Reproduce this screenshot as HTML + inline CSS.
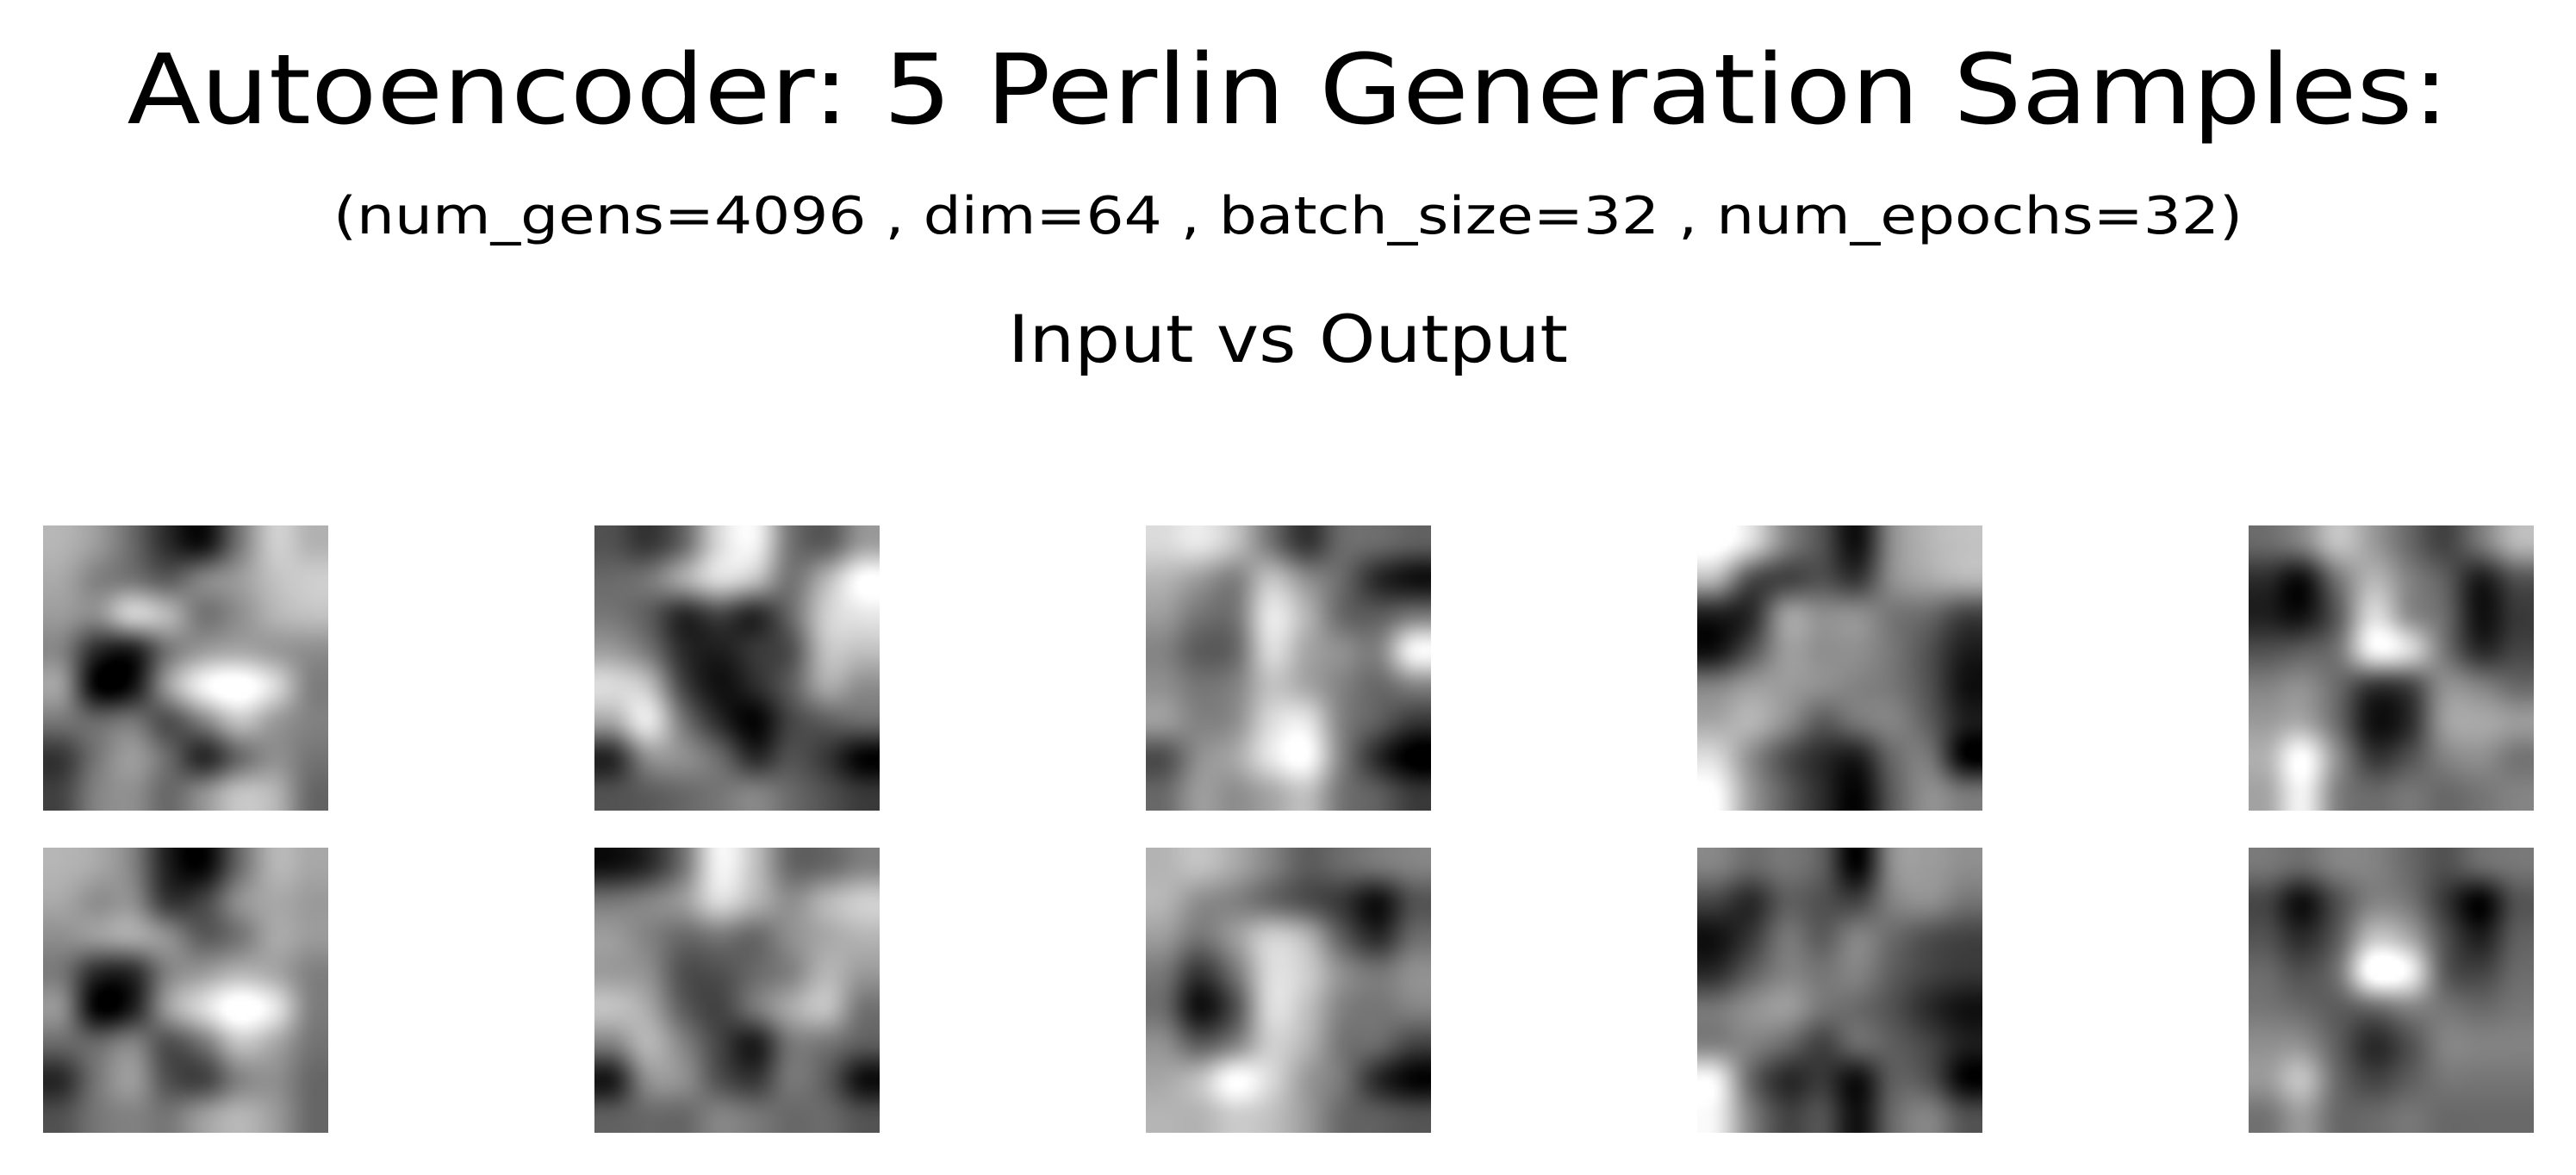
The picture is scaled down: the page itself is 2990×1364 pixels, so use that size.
<!DOCTYPE html>
<html>
<head>
<meta charset="utf-8">
<style>
  html,body{margin:0;padding:0;background:#fff;}
  #page{position:relative;width:2990px;height:1364px;overflow:hidden;background:#fff;font-family:"DejaVu Sans","Liberation Sans",sans-serif;}
  canvas{position:absolute;display:block;}
  svg{position:absolute;left:0;top:0;}
</style>
</head>
<body>
<div id="page">
<svg width="2990" height="1364">
  <text x="1495" y="143" text-anchor="middle" font-family="DejaVu Sans, Liberation Sans, sans-serif" font-size="112" textLength="2695" lengthAdjust="spacingAndGlyphs" fill="#000">Autoencoder: 5 Perlin Generation Samples:</text>
  <text x="1495" y="271" text-anchor="middle" font-family="DejaVu Sans, Liberation Sans, sans-serif" font-size="60" textLength="2216" lengthAdjust="spacingAndGlyphs" fill="#000">(num_gens=4096 , dim=64 , batch_size=32 , num_epochs=32)</text>
  <text x="1495" y="420" text-anchor="middle" font-family="DejaVu Sans, Liberation Sans, sans-serif" font-size="76" textLength="650" lengthAdjust="spacingAndGlyphs" fill="#000">Input vs Output</text>
</svg>
</div>
<script>
// Approximate 8x8 grayscale grids (0-255) for each sample
const input1 = [[170,150,110,60,40,120,190,170],[160,130,120,100,130,150,180,190],[150,140,190,170,120,140,170,180],[130,60,50,120,150,160,150,140],[150,30,40,150,220,240,200,130],[120,110,120,90,130,180,150,130],[70,120,150,110,60,110,140,120],[80,130,140,110,140,180,170,110]];
const output1 = [[170,160,130,50,30,110,170,160],[160,140,140,70,80,140,160,150],[140,150,160,140,100,120,160,150],[120,60,60,130,150,170,160,130],[140,30,50,150,200,240,210,130],[110,110,130,90,120,180,160,120],[60,120,150,90,80,130,140,110],[90,120,130,120,150,170,150,110]];
const input2 = [[90,70,110,200,220,120,100,150],[110,120,160,200,180,120,170,230],[120,100,60,80,60,110,190,210],[150,120,60,50,70,90,180,180],[200,180,80,40,60,100,160,140],[160,210,120,60,30,80,100,110],[60,140,140,110,60,90,70,30],[90,100,110,120,130,110,90,70]];
const output2 = [[40,60,120,220,180,110,110,130],[120,130,150,200,170,140,170,190],[150,130,110,120,110,140,160,170],[150,140,90,90,110,130,170,150],[180,160,100,80,120,160,180,120],[130,170,130,80,50,120,120,100],[50,140,140,90,70,120,100,40],[100,110,110,130,120,110,110,90]];
const input3 = [[200,210,180,120,70,110,110,100],[170,150,130,180,140,110,60,40],[150,120,120,210,170,110,100,120],[130,100,110,200,160,140,130,220],[140,120,130,180,160,130,110,130],[150,130,140,200,210,130,100,70],[90,140,160,210,230,130,60,20],[110,150,140,160,180,120,100,70]];
const output3 = [[170,180,160,130,100,110,120,130],[170,140,130,110,90,70,40,90],[150,120,150,190,170,100,60,110],[120,70,120,200,190,140,120,140],[110,40,90,200,180,130,120,130],[140,100,130,190,170,120,110,80],[160,180,230,200,150,120,60,30],[170,170,190,180,150,110,100,90]];
const input4 = [[240,200,130,90,40,140,170,180],[170,90,80,90,70,140,160,170],[50,60,150,140,140,120,110,80],[40,90,150,140,140,120,90,50],[130,150,150,140,130,120,90,40],[160,170,140,100,120,130,100,50],[200,140,90,60,50,110,120,30],[230,150,100,60,30,100,140,120]];
const output4 = [[130,110,120,100,30,140,150,140],[80,60,100,90,80,130,140,120],[40,70,120,100,130,110,90,80],[60,100,130,120,130,100,80,70],[120,140,150,120,110,90,60,40],[130,130,110,80,110,100,80,50],[220,110,60,70,40,100,90,30],[220,130,80,90,40,110,130,90]];
const input5 = [[110,130,180,150,110,80,120,170],[60,40,120,170,130,100,50,90],[50,40,100,200,140,110,40,70],[90,100,120,220,200,120,60,80],[130,140,110,70,80,140,130,110],[150,160,110,40,60,150,160,150],[170,230,140,70,90,130,140,120],[160,220,130,110,120,110,120,130]];
const output5 = [[120,110,130,130,110,90,110,120],[80,40,90,130,120,70,30,90],[90,60,100,180,160,90,50,100],[110,90,120,240,220,100,80,110],[120,110,100,110,130,120,110,120],[140,140,100,60,90,130,130,130],[150,180,110,80,100,120,120,120],[120,150,110,110,120,110,110,110]];

const inputs = [input1,input2,input3,input4,input5];
const outputs = [output1,output2,output3,output4,output5];

const colX = [50,690,1330,1970,2610];
const rowY = [610,984];
const SIZE = 331;
const page = document.getElementById('page');

function cr(p0,p1,p2,p3,t){
  return p1 + 0.5*t*(p2-p0 + t*(2*p0-5*p1+4*p2-p3 + t*(3*(p1-p2)+p3-p0)));
}
function g_at(g,x,y){
  const n=g.length;
  x=Math.min(Math.max(x,0),n-1); y=Math.min(Math.max(y,0),n-1);
  return g[y][x];
}
function sample(g, u, v){
  const n = g.length;
  const fx = u*n-0.5, fy = v*n-0.5;
  const x1 = Math.floor(fx), y1 = Math.floor(fy);
  const tx = fx-x1, ty = fy-y1;
  const rows=[];
  for(let k=-1;k<=2;k++){
    rows.push(cr(g_at(g,x1-1,y1+k),g_at(g,x1,y1+k),g_at(g,x1+1,y1+k),g_at(g,x1+2,y1+k),tx));
  }
  return cr(rows[0],rows[1],rows[2],rows[3],ty);
}

function drawImage(grid, x, y, name){
  const c = document.createElement('canvas');
  
  
  const R = 64;
  c.width = R; c.height = R;
  c.style.left = x+'px'; c.style.top = y+'px';
  c.style.width = SIZE+'px'; c.style.height = SIZE+'px';
  const ctx = c.getContext('2d');
  const img = ctx.createImageData(R,R);
  for(let j=0;j<R;j++){
    for(let i=0;i<R;i++){
      let v = sample(grid,(i+0.5)/R,(j+0.5)/R);
      v = 128 + (v-128)*1.25;
      v = Math.round(Math.min(255,Math.max(0,v)));
      const k = (j*R+i)*4;
      img.data[k]=v; img.data[k+1]=v; img.data[k+2]=v; img.data[k+3]=255;
    }
  }
  ctx.putImageData(img,0,0);
  page.appendChild(c);
}

for(let s=0;s<inputs.length;s++){
  drawImage(inputs[s], colX[s], rowY[0], 'input-sample-'+(s+1));
  drawImage(outputs[s], colX[s], rowY[1], 'output-sample-'+(s+1));
}
</script>
</body>
</html>
